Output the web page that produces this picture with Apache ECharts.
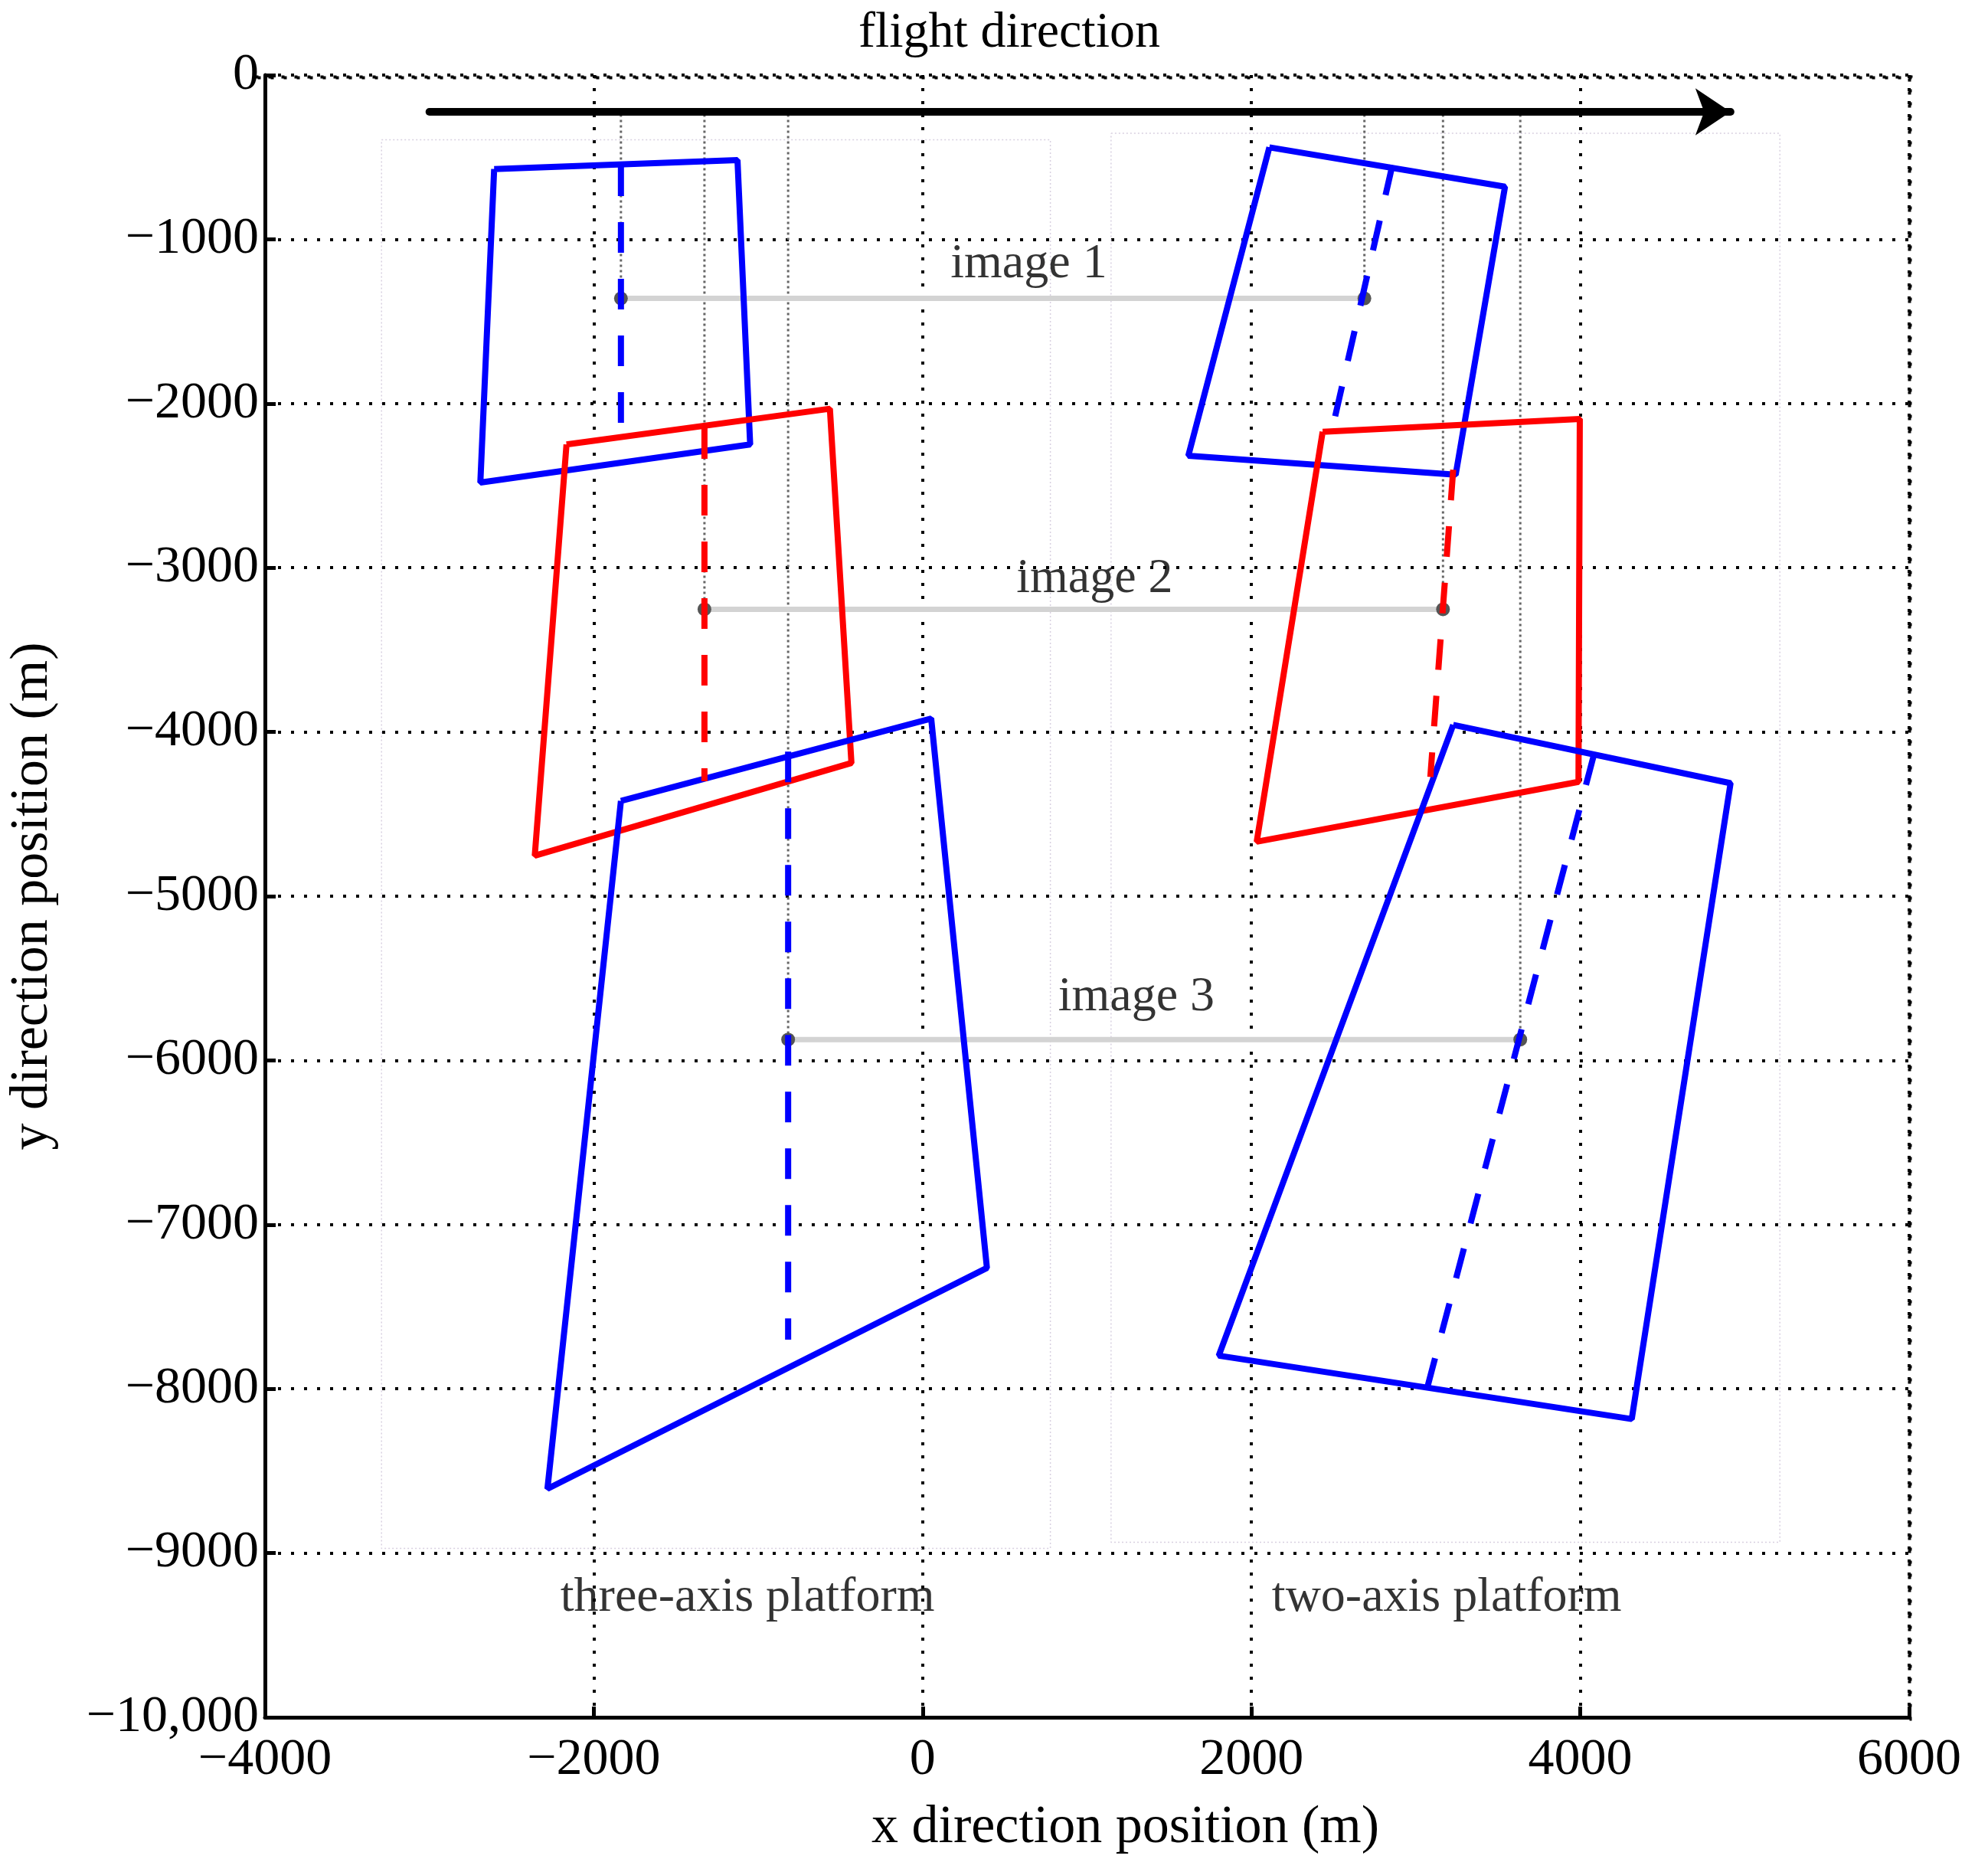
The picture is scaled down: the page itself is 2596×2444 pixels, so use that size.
<!DOCTYPE html>
<html><head><meta charset="utf-8">
<script src="https://cdn.jsdelivr.net/npm/echarts@6/dist/echarts.min.js"></script>
<style>html,body{margin:0;padding:0;background:#fff}#c{width:2596px;height:2444px}</style>
</head><body><div id="c"></div>
<script>
const xTicks=[-4000,-2000,0,2000,4000,6000];
const yTicks=[0,-1000,-2000,-3000,-4000,-5000,-6000,-7000,-8000,-9000,-10000];
// footprints (closed quads)
const left1=[[-2606,-572],[-1126,-518],[-1049,-2249],[-2690,-2481],[-2606,-572]];
const left2=[[-2166,-2249],[-564,-2032],[-433,-4189],[-2359,-4753],[-2166,-2249]];
const left3=[[-1835,-4420],[52,-3918],[391,-7264],[-2282,-8609],[-1835,-4420]];
const right1=[[2109,-440],[3542,-680],[3242,-2434],[1616,-2318],[2109,-440]];
const right2=[[2433,-2172],[3997,-2094],[3989,-4304],[2032,-4668],[2433,-2172]];
const right3=[[3227,-3957],[4914,-4312],[4313,-8184],[1801,-7798],[3227,-3957]];
// centre lines (dashed)
const cl1=[[-1835,-550],[-1835,-2210]];
const cl2=[[-1327,-2150],[-1327,-4300]];
const cl3=[[-818,-4120],[-818,-7700]];
const cr1=[[2857,-549],[2479,-2210]];
const cr2=[[3227,-2403],[3088,-4274]];
const cr3=[[4082,-4142],[3072,-7983]];
// image centres
const imgY=[-1360,-3253,-5873];
const imgXL=[-1835,-1327,-818];
const imgXR=[2687,3165,3635];
const imgLabels=['image 1','image 2','image 3'];
const imgLabelPos=[[646,-1151],[1046,-3068],[1300,-5618]];
const arrow=[[-3000,-224],[4914,-224]];
const boxL=[-3291,-394,777,-8972];
const boxR=[1146,-355,5214,-8934];
const platLabels=[['three-axis platform',-1065,-9274],['two-axis platform',3188,-9274]];

const F='Liberation Serif, Times New Roman, serif';
const series=[];
function poly(d,color,dash){series.push({type:'line',data:d,symbol:'none',silent:true,
 lineStyle:{color:color,width:8,type:dash?[40,34]:'solid'},z:5});}
for(let i=0;i<3;i++){
 for(const x of [imgXL[i],imgXR[i]]){
  series.push({type:'line',data:[[x,-240],[x,imgY[i]]],symbol:'none',silent:true,lineStyle:{color:'#666',width:3,type:[3,4]},z:3});
 }
 series.push({type:'line',data:[[imgXL[i],imgY[i]],[imgXR[i],imgY[i]]],symbol:'circle',symbolSize:18,silent:true,
  itemStyle:{color:'#555'},lineStyle:{color:'#d3d3d3',width:7},z:4});
}
poly(left1,'#0000ff');poly(left2,'#ff0000');poly(left3,'#0000ff');
poly(right1,'#0000ff');poly(right2,'#ff0000');poly(right3,'#0000ff');
poly(cl1,'#0000ff',1);poly(cl2,'#ff0000',1);poly(cl3,'#0000ff',1);
poly(cr1,'#0000ff',1);poly(cr2,'#ff0000',1);poly(cr3,'#0000ff',1);
for(const b of [boxL,boxR]){
 series.push({type:'line',data:[[b[0],b[1]],[b[2],b[1]],[b[2],b[3]],[b[0],b[3]],[b[0],b[1]]],symbol:'none',silent:true,
  lineStyle:{color:'#d8d0e0',width:1.5,type:[2,3]},z:1});
}
series.push({type:'lines',coordinateSystem:'cartesian2d',silent:true,z:6,
 data:[{coords:arrow}],symbol:['none','arrow'],symbolSize:46,lineStyle:{color:'#000',width:10,opacity:1,cap:'round'}});
series.push({type:'scatter',symbolSize:0,silent:true,z:7,
 data:imgLabels.map((t,i)=>({value:imgLabelPos[i],label:{show:true,formatter:t}})).concat(
  platLabels.map(p=>({value:[p[1],p[2]],label:{show:true,formatter:p[0]}}))),
 label:{show:true,position:'inside',color:'#000',textBorderWidth:0,fontFamily:F,fontSize:64}});

const chart=echarts.init(document.getElementById('c'));
chart.setOption({
 backgroundColor:'#fff',animation:false,
 title:{text:'flight direction',left:1313,top:6,textAlign:'center',textStyle:{fontFamily:F,fontSize:66,fontWeight:'normal',color:'#000'}},
 grid:{left:331,right:103,top:98,bottom:202,containLabel:false},
 xAxis:{type:'value',min:-4000,max:6000,interval:2000,
  name:'x direction position (m)',nameLocation:'middle',nameGap:110,nameTextStyle:{fontFamily:F,fontSize:70,color:'#000',padding:[0,0,0,100]},
  axisLine:{show:true,onZero:false,lineStyle:{color:'#000',width:5}},
  axisTick:{inside:true,length:14,lineStyle:{color:'#000',width:5}},
  axisLabel:{fontFamily:F,fontSize:68,color:'#000',margin:22,formatter:v=>String(v).replace('-','\u2212')},
  splitLine:{show:true,lineStyle:{color:'#000',width:4,type:[4,13]}}},
 yAxis:{type:'value',min:-10000,max:0,interval:1000,
  name:'y direction position (m)',nameLocation:'middle',nameGap:268,nameTextStyle:{fontFamily:F,fontSize:70,color:'#000'},
  axisLine:{show:true,onZero:false,lineStyle:{color:'#000',width:5}},
  axisTick:{inside:true,length:14,lineStyle:{color:'#000',width:5}},
  axisLabel:{fontFamily:F,fontSize:68,color:'#000',margin:8,formatter:v=>v===-10000?'\u221210,000':String(v).replace('-','\u2212')},
  splitLine:{show:true,lineStyle:{color:'#000',width:4,type:[4,13]}}},
 graphic:[{type:'rect',left:2491,top:98,shape:{width:1,height:2144},style:{fill:'none',stroke:'#000',lineWidth:4,lineDash:[4,13]}},
          {type:'rect',left:331,top:98,shape:{width:2162,height:1},style:{fill:'none',stroke:'#000',lineWidth:4,lineDash:[4,13]}}],
 series:series
});
</script></body></html>
